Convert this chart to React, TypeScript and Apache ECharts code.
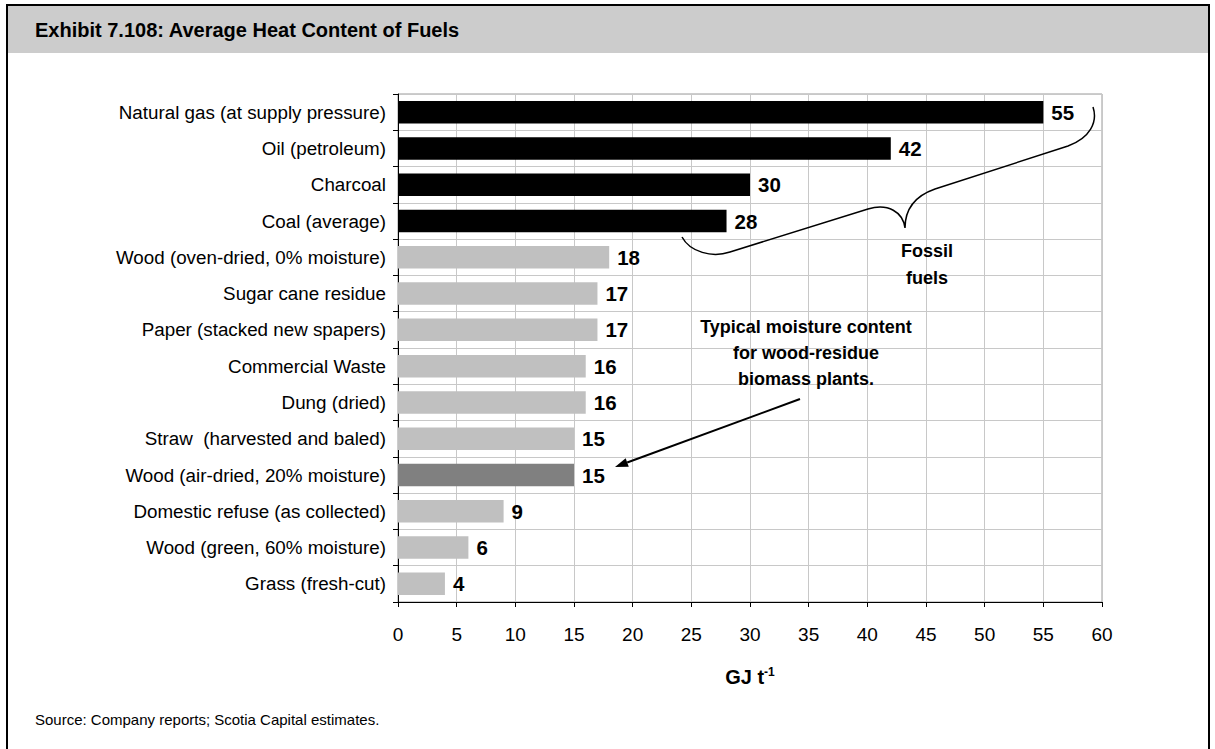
import { useEffect, useRef } from "react";
import * as echarts from "echarts";

const categories = [
  "Natural gas (at supply pressure)",
  "Oil (petroleum)",
  "Charcoal",
  "Coal (average)",
  "Wood (oven-dried, 0% moisture)",
  "Sugar cane residue",
  "Paper (stacked new spapers)",
  "Commercial Waste",
  "Dung (dried)",
  "Straw  (harvested and baled)",
  "Wood (air-dried, 20% moisture)",
  "Domestic refuse (as collected)",
  "Wood (green, 60% moisture)",
  "Grass (fresh-cut)",
];
const values = [55, 42, 30, 28, 18, 17, 17, 16, 16, 15, 15, 9, 6, 4];
const groups = [
  "fossil", "fossil", "fossil", "fossil",
  "biomass", "biomass", "biomass", "biomass", "biomass", "biomass",
  "highlight",
  "biomass", "biomass", "biomass",
];
const groupColors: Record<string, string> = {
  fossil: "#000000",
  biomass: "#c0c0c0",
  highlight: "#808080",
};
const xMin = 0;
const xMax = 60;
const xInterval = 5;

const titleText = "Exhibit 7.108: Average Heat Content of Fuels";
const sourceText = "Source: Company reports; Scotia Capital estimates.";
const fossilNote = "Fossil\nfuels";
const moistureNote = "Typical moisture content\nfor wood-residue\nbiomass plants.";

const FONT = 'Arial, "Liberation Sans", Helvetica, sans-serif';

const braceD =
  "M 1093 107 C 1098 122 1090 138 1068 146 L 935 189 C 915 196 905 210 905 228 C 903 212 888 203 868 209 L 730 252 C 712 258 690 252 682 237";
let registered = false;
function registerShapes() {
  if (registered) return;
  echarts.graphic.registerShape("brace", echarts.graphic.extendPath(braceD, {}) as any);
  registered = true;
}

export default function App() {
  const ref = useRef<HTMLDivElement>(null);
  useEffect(() => {
    registerShapes();
    const chart = echarts.init(ref.current!, null, { renderer: "svg" });
    const tip = [615, 467];
    const start = [800, 399];
    const dx = tip[0] - start[0];
    const dy = tip[1] - start[1];
    const len = Math.sqrt(dx * dx + dy * dy);
    const ux = dx / len;
    const uy = dy / len;
    const hl = 13;
    const hw = 4.5;
    const bx = tip[0] - ux * hl;
    const by = tip[1] - uy * hl;
    chart.setOption({
      animation: false,
      backgroundColor: "#ffffff",
      textStyle: { fontFamily: FONT },
      grid: {
        left: 398,
        right: 113,
        top: 94,
        bottom: 147,
        show: true,
        borderColor: "#9a9a9a",
        borderWidth: 1,
        backgroundColor: "transparent",
      },
      xAxis: {
        type: "value",
        min: xMin,
        max: xMax,
        interval: xInterval,
        axisLine: { show: true, lineStyle: { color: "#000", width: 1 } },
        axisTick: { show: true, length: 5, lineStyle: { color: "#000" } },
        axisLabel: { color: "#000", fontSize: 19, margin: 23, fontFamily: FONT },
        splitLine: { show: true, lineStyle: { color: "#c8c8c8", width: 1 } },
        name: "GJ t{sup|-1}",
        nameLocation: "middle",
        nameGap: 64,
        nameTextStyle: {
          color: "#000",
          fontSize: 20,
          fontWeight: "bold",
          fontFamily: FONT,
          rich: {
            sup: { fontSize: 12, fontWeight: "bold", color: "#000", verticalAlign: "top", padding: [0, 0, 10, 0] },
          },
        },
      },
      yAxis: {
        type: "category",
        inverse: true,
        data: categories,
        axisLine: { show: true, lineStyle: { color: "#000", width: 1 } },
        axisTick: { show: true, length: 5, lineStyle: { color: "#000" } },
        axisLabel: { color: "#000", fontSize: 18.8, margin: 12, fontFamily: FONT },
        splitLine: { show: true, lineStyle: { color: "#c8c8c8", width: 1 } },
      },
      series: [
        {
          type: "bar",
          barCategoryGap: "38%",
          data: values.map((v, i) => ({
            value: v,
            itemStyle: { color: groupColors[groups[i]] },
          })),
          label: {
            show: true,
            position: "right",
            distance: 8,
            color: "#000",
            fontSize: 20.5,
            fontWeight: "bold",
            fontFamily: FONT,
          },
        },
      ],
      graphic: [
        {
          type: "rect",
          z: 0,
          silent: true,
          shape: { x: 8, y: 6, width: 1200, height: 47 },
          style: { fill: "#cccccc" },
        },
        {
          type: "rect",
          z: 100,
          silent: true,
          shape: { x: 7, y: 5, width: 1202, height: 770 },
          style: { fill: "none", stroke: "#000", lineWidth: 2 },
        },
        {
          type: "text",
          z: 100,
          x: 35,
          y: 30,
          style: {
            text: titleText,
            fill: "#000",
            font: `bold 20px ${FONT}`,
            verticalAlign: "middle",
            align: "left",
          },
        },
        {
          type: "text",
          z: 100,
          x: 35,
          y: 719,
          style: {
            text: sourceText,
            fill: "#000",
            font: `15px ${FONT}`,
            verticalAlign: "middle",
            align: "left",
          },
        },
        {
          type: "brace",
          z: 100,
          x: 0,
          y: 0,
          style: { fill: "none", stroke: "#000", lineWidth: 1.5 },
        },
        {
          type: "text",
          z: 100,
          x: 927,
          y: 264,
          style: {
            text: fossilNote,
            fill: "#000",
            font: `bold 18px ${FONT}`,
            align: "center",
            verticalAlign: "middle",
            lineHeight: 27,
          },
        },
        {
          type: "text",
          z: 100,
          x: 806,
          y: 353,
          style: {
            text: moistureNote,
            fill: "#000",
            font: `bold 18px ${FONT}`,
            align: "center",
            verticalAlign: "middle",
            lineHeight: 26,
          },
        },
        {
          type: "line",
          z: 100,
          shape: { x1: start[0], y1: start[1], x2: bx, y2: by },
          style: { stroke: "#000", lineWidth: 2 },
        },
        {
          type: "polygon",
          z: 100,
          shape: {
            points: [
              [tip[0], tip[1]],
              [bx - uy * hw, by + ux * hw],
              [bx + uy * hw, by - ux * hw],
            ],
          },
          style: { fill: "#000" },
        },
      ],
    });
    return () => chart.dispose();
  }, []);
  return (
    <div
      ref={ref}
      style={{ position: "absolute", left: 0, top: 0, width: 1215, height: 749 }}
    />
  );
}
